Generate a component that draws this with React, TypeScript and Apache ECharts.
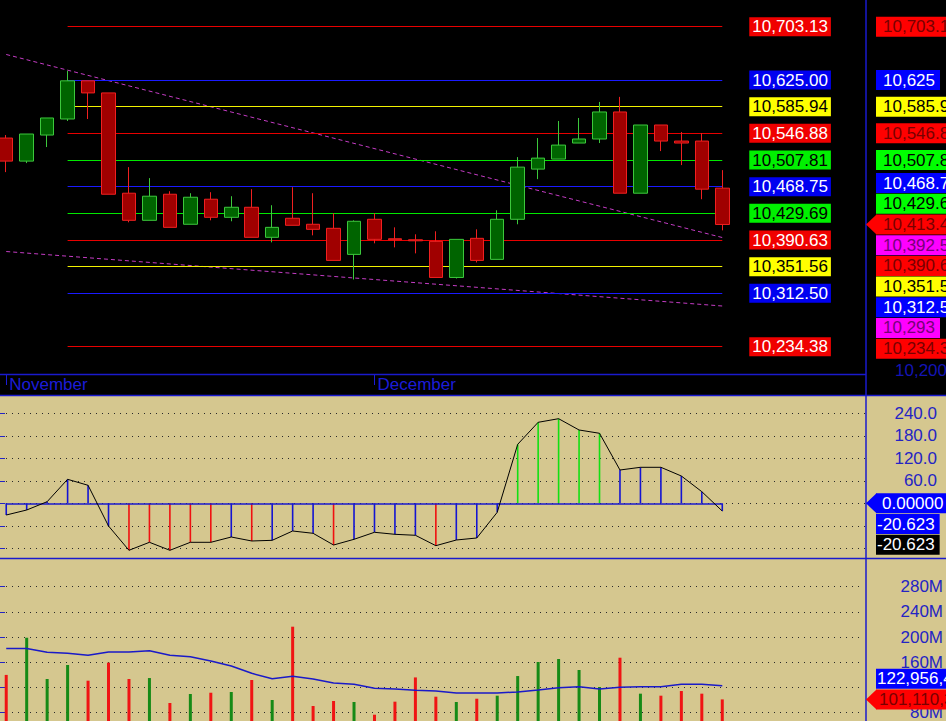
import { useEffect, useRef } from 'react';
import * as echarts from 'echarts';

// ---------- data ----------
const dates = [
  'Nov 06', 'Nov 07', 'Nov 08', 'Nov 09', 'Nov 10', 'Nov 13', 'Nov 14', 'Nov 15', 'Nov 16',
  'Nov 17', 'Nov 20', 'Nov 21', 'Nov 22', 'Nov 24', 'Nov 27', 'Nov 28', 'Nov 29', 'Nov 30',
  'Dec 01', 'Dec 04', 'Dec 05', 'Dec 06', 'Dec 07', 'Dec 08', 'Dec 11', 'Dec 12', 'Dec 13',
  'Dec 14', 'Dec 15', 'Dec 18', 'Dec 19', 'Dec 20', 'Dec 21', 'Dec 22', 'Dec 26', 'Dec 27',
];
const monthNames: Record<string, string> = { Nov: 'November', Dec: 'December' };

const candleOpen = [
  10540.0, 10506.2, 10544.4, 10567.9, 10623.8, 10606.1, 10459.2, 10419.5, 10457.7,
  10413.7, 10450.4, 10423.9, 10438.6, 10394.6, 10422.5, 10413.7, 10407.8, 10369.6,
  10421.0, 10392.5, 10391.0, 10388.7, 10335.8, 10393.1, 10362.3, 10421.0, 10494.5,
  10509.2, 10532.7, 10538.6, 10578.2, 10459.2, 10559.1, 10535.6, 10535.6, 10466.6,
];
const candleClose = [
  10506.2, 10545.9, 10569.4, 10623.8, 10606.1, 10457.7, 10419.5, 10454.8, 10409.2,
  10453.3, 10423.9, 10438.6, 10394.6, 10409.2, 10412.2, 10406.3, 10360.8, 10418.1,
  10391.6, 10391.0, 10389.5, 10335.8, 10391.6, 10360.8, 10421.0, 10497.4, 10510.6,
  10529.7, 10538.6, 10578.2, 10459.2, 10559.1, 10535.6, 10532.7, 10465.1, 10413.4,
];
const candleLow = [
  10490.1, 10503.3, 10526.8, 10565.0, 10567.9, 10457.7, 10416.6, 10419.5, 10409.2,
  10413.7, 10419.5, 10418.1, 10394.6, 10387.2, 10412.2, 10397.5, 10360.8, 10332.8,
  10385.8, 10379.9, 10371.1, 10335.8, 10334.3, 10357.8, 10362.3, 10413.7, 10479.8,
  10509.2, 10532.7, 10532.7, 10459.2, 10459.2, 10520.9, 10500.4, 10450.4, 10404.8,
];
const candleHigh = [
  10544.4, 10545.9, 10569.4, 10638.5, 10623.8, 10606.1, 10497.4, 10481.3, 10462.1,
  10459.2, 10460.7, 10454.8, 10465.1, 10441.6, 10468.0, 10459.2, 10429.8, 10419.5,
  10429.8, 10409.2, 10399.0, 10403.4, 10391.6, 10406.3, 10434.2, 10512.1, 10540.0,
  10565.0, 10569.4, 10592.9, 10600.3, 10559.1, 10559.1, 10548.8, 10547.4, 10493.0,
];

// oscillator (line + stems)
const oscValues = [
  -31.2, -17.9, 4.3, 64, 48, -60.5, -125.3, -104, -125.3, -104, -104, -89.9,
  -100.5, -98.7, -73.9, -80, -111.2, -96, -77.3, -82.7, -85.3, -113, -97.9, -92.5,
  -24, 157.3, 216, 225.6, 195.5, 186.7, 88.8, 96, 96, 72.8, 31, -20.623,
];
const oscKinds = [
  'b', 'b', 'b', 'b', 'b', 'b', 'r', 'r', 'r', 'r', 'r', 'b',
  'r', 'b', 'b', 'b', 'r', 'b', 'b', 'b', 'b', 'r', 'b', 'b',
  'b', 'g', 'g', 'g', 'g', 'g', 'b', 'b', 'b', 'b', 'b', 'b',
];

// volume, in millions
const volumeM = [
  140, 199, 133.5, 155.7, 130.8, 159.4, 133.5, 135, 95.4, 109.7, 111.7, 112.9,
  131.9, 100.2, 216.5, 90.6, 98.6, 97, 76.8, 97.5, 136, 105.4, 97, 102.2,
  107, 138.2, 160.5, 165.2, 147.8, 120.8, 167.3, 110.2, 107, 114.4, 110.2, 101.1,
];
const volumeAvgM = [
  182, 182, 175.9, 174.3, 171.1, 176.3, 176.3, 178.4, 171.1, 168.9, 162, 154.1,
  142.5, 134, 137.8, 133.5, 127.1, 125, 118.7, 117.6, 115.5, 114.4, 111.3, 111.3,
  111.3, 112.9, 116, 119.7, 121.3, 117.6, 120.3, 121.3, 121.3, 125, 125, 122.96,
];

// dotted trend lines (value at first and last candle)
const trendIndex = [0, 35];
const trendUpper = [10662.4, 10394.3];
const trendLower = [10373.8, 10294.0];

// horizontal price levels
const levelValues = [
  10703.13, 10625.0, 10585.94, 10546.88, 10507.81, 10468.75, 10429.69, 10390.63, 10351.56, 10312.5, 10234.38,
];
const levelKinds = ['r', 'b', 'y', 'r', 'g', 'b', 'g', 'r', 'y', 'b', 'r'];
const levelStartIndex = 3;

// right-hand price tags
const priceTagValues = [
  10703.13, 10625, 10585.94, 10546.88, 10507.81, 10468.75, 10429.69, 10413.41, 10392.52, 10390.63, 10351.56, 10312.5, 10293, 10234.38,
];
const priceTagTexts = [
  '10,703.13', '10,625', '10,585.94', '10,546.88', '10,507.81', '10,468.75', '10,429.69',
  '10,413.41', '10,392.52', '10,390.63', '10,351.56', '10,312.50', '10,293', '10,234.38',
];
const priceTagKinds = ['r', 'b', 'y', 'r', 'g', 'b', 'g', 'r', 'm', 'r', 'y', 'b', 'm', 'r'];
const priceTagAnchor = 7;
const priceAxisTickValue = 10200;
const priceAxisTickText = '10,200';

const oscTagValues = [0, -20.623, -20.623];
const oscTagTexts = ['0.00000', '-20.623', '-20.623'];
const oscTagKinds = ['B', 'B', 'K'];
const oscTagAnchor = 0;

const volTagValues = [122.956, 101.11];
const volTagTexts = ['122,956,480', '101,110,300'];
const volTagKinds = ['B', 'R'];
const volTagAnchor = 1;

// ---------- styles / layout ----------
const FONT = '"Liberation Sans", Arial, sans-serif';
const TAN = '#D5C78F';
const FRAME = '#1A1ACD';
const AXIS_TEXT = '#2424C4';

const LEVEL_LINE: Record<string, string> = { r: '#E80000', b: '#1A1AFF', y: '#F2F200', g: '#00E800' };
const LEVEL_BG: Record<string, string> = { r: '#F00000', b: '#0000F0', y: '#FFFF00', g: '#00F000' };
const LEVEL_FG: Record<string, string> = { r: '#FFFFFF', b: '#FFFFFF', y: '#000000', g: '#000000' };

const TAG_BG: Record<string, string> = {
  r: '#FF0000', b: '#0000FF', y: '#FFFF00', g: '#00FF00', m: '#FF00FF',
  B: '#0000FF', K: '#000000', R: '#FF0000',
};
const TAG_FG: Record<string, string> = {
  r: '#780000', b: '#FFFFFF', y: '#000000', g: '#000000', m: '#780078',
  B: '#FFFFFF', K: '#FFFFFF', R: '#780000',
};
const STEM: Record<string, string> = { b: '#1414D2', r: '#F01010', g: '#12E012' };

// the chart canvas is 10px wider on the left and taller than the visible page
const OX = 10;
const CW = 956;
const CH = 740;
const DATA_LEFT = OX - 4;
const DATA_WIDTH = 736.5;
const AXIS_X = OX + 866;
const TAG_H = 20.7;

export default function App() {
  const ref = useRef<HTMLDivElement>(null);

  useEffect(() => {
    document.body.style.margin = '0';
    document.body.style.background = '#000';
    const chart = echarts.init(ref.current!, null, { renderer: 'svg' });

    const isMonthStart = (i: number) => i === 0 || dates[i].slice(0, 3) !== dates[i - 1].slice(0, 3);
    const candleData = dates.map((_, i) => [candleOpen[i], candleClose[i], candleLow[i], candleHigh[i]]);
    const isUp = (i: number) => candleClose[i] >= candleOpen[i];

    const levelLines = levelValues.map((v, i) => [
      {
        coord: [levelStartIndex, v],
        lineStyle: { color: LEVEL_LINE[levelKinds[i]], width: 1, type: 'solid' },
        label: {
          show: true,
          position: 'end',
          distance: 27,
          formatter: v.toLocaleString('en-US', { minimumFractionDigits: 2, maximumFractionDigits: 2 }),
          backgroundColor: LEVEL_BG[levelKinds[i]],
          color: LEVEL_FG[levelKinds[i]],
          padding: [1, 3, 1, 3],
          fontSize: 17,
          lineHeight: 17,
          fontFamily: FONT,
        },
      },
      { coord: [dates.length - 1, v] },
    ]);

    const dotted = { color: '#2a2a2a', width: 1, type: [1, 5] as any };

    const frame: any[] = [
      { type: 'rect', id: 'tan', z: -10, silent: true, shape: { x: 0, y: 396, width: CW, height: CH - 396 }, style: { fill: TAN } },
      { type: 'line', id: 'sep1', z: 20, silent: true, shape: { x1: 0, y1: 395.5, x2: CW, y2: 395.5 }, style: { stroke: FRAME, lineWidth: 1.5 } },
      { type: 'line', id: 'sep2', z: 20, silent: true, shape: { x1: 0, y1: 558.5, x2: CW, y2: 558.5 }, style: { stroke: FRAME, lineWidth: 1.5 } },
      { type: 'line', id: 'vaxis', z: 20, silent: true, shape: { x1: AXIS_X, y1: 0, x2: AXIS_X, y2: CH }, style: { stroke: FRAME, lineWidth: 1.5 } },
      { type: 'line', id: 'hbase', z: 20, silent: true, shape: { x1: 0, y1: 374.5, x2: AXIS_X, y2: 374.5 }, style: { stroke: FRAME, lineWidth: 1.5 } },
    ];

    const option: any = {
      animation: false,
      backgroundColor: '#000000',
      textStyle: { fontFamily: FONT },
      grid: [
        { left: DATA_LEFT, top: 0, width: DATA_WIDTH, height: 374 },
        { left: DATA_LEFT, top: 390.8, width: DATA_WIDTH, height: 180 },
        { left: OX, top: 390.8, width: 866, height: 180 },
        { left: DATA_LEFT, top: 561.5, width: DATA_WIDTH, height: 176.4 },
        { left: OX, top: 561.5, width: 866, height: 176.4 },
      ],
      xAxis: [
        {
          type: 'category', gridIndex: 0, data: dates, boundaryGap: true,
          axisLine: { show: false },
          axisTick: { show: true, alignWithLabel: true, interval: (i: number) => isMonthStart(i), length: 11, lineStyle: { color: '#1C1CD8', width: 1 } },
          axisLabel: {
            show: true, interval: (i: number) => isMonthStart(i),
            formatter: (v: string) => monthNames[v.slice(0, 3)] || v,
            align: 'left', color: '#1C1CD8', fontSize: 17, fontFamily: FONT, margin: 2, padding: [0, 0, 0, 3],
          },
          splitLine: { show: false },
        },
        { type: 'category', gridIndex: 1, data: dates, show: false },
        { type: 'value', gridIndex: 2, min: 0, max: 1, show: false },
        { type: 'category', gridIndex: 3, data: dates, show: false },
        { type: 'value', gridIndex: 4, min: 0, max: 1, show: false },
      ],
      yAxis: [
        { type: 'value', gridIndex: 0, min: 10194.4, max: 10742.2, show: false, splitLine: { show: false } },
        { type: 'value', gridIndex: 1, min: -180, max: 300, show: false, splitLine: { show: false } },
        {
          type: 'value', gridIndex: 2, min: -180, max: 300, interval: 60, position: 'right',
          axisLine: { show: false },
          axisTick: { show: true, length: 5, lineStyle: { color: AXIS_TEXT } },
          axisLabel: {
            formatter: (v: number) => (v > 0 ? v.toFixed(1) : ''), align: 'right', margin: 71,
            color: AXIS_TEXT, fontSize: 17, fontFamily: FONT, showMinLabel: false, showMaxLabel: false,
          },
          splitLine: { show: true, showMinLine: false, showMaxLine: false, lineStyle: dotted },
        },
        { type: 'value', gridIndex: 3, min: 40, max: 320, show: false, splitLine: { show: false } },
        {
          type: 'value', gridIndex: 4, min: 40, max: 320, interval: 40, position: 'right',
          axisLine: { show: false },
          axisTick: { show: true, length: 5, lineStyle: { color: AXIS_TEXT } },
          axisLabel: {
            formatter: (v: number) => (v === 120 ? '' : `${v}M`), align: 'right', margin: 79,
            color: AXIS_TEXT, fontSize: 17, fontFamily: FONT, showMinLabel: false, showMaxLabel: false,
          },
          splitLine: { show: true, showMinLine: false, showMaxLine: false, lineStyle: dotted },
        },
      ],
      series: [
        {
          type: 'line', name: 'trendUpper', xAxisIndex: 0, yAxisIndex: 0, z: 3,
          data: trendIndex.map((x, i) => [x, trendUpper[i]]),
          symbol: 'none', silent: true,
          lineStyle: { color: '#C43CC4', width: 1, type: [4, 3] },
          markLine: {
            silent: true, symbol: ['none', 'none'], z: 4,
            lineStyle: { type: 'solid', width: 1 },
            data: levelLines,
          },
        },
        {
          type: 'line', name: 'trendLower', xAxisIndex: 0, yAxisIndex: 0, z: 3,
          data: trendIndex.map((x, i) => [x, trendLower[i]]),
          symbol: 'none', silent: true,
          lineStyle: { color: '#C43CC4', width: 1, type: [4, 3] },
        },
        {
          type: 'candlestick', name: 'price', xAxisIndex: 0, yAxisIndex: 0, z: 10,
          data: candleData, barWidth: 14,
          itemStyle: {
            color: '#006400', color0: '#A00000',
            borderColor: '#3CC83C', borderColor0: '#F02020', borderWidth: 1,
          },
        },
        {
          type: 'bar', name: 'oscStems', xAxisIndex: 1, yAxisIndex: 1, barWidth: 1.6, z: 3,
          data: oscValues.map((v, i) => ({ value: v, itemStyle: { color: STEM[oscKinds[i]] } })),
        },
        {
          type: 'line', name: 'osc', xAxisIndex: 1, yAxisIndex: 1, z: 5,
          data: oscValues, symbol: 'none',
          lineStyle: { color: '#000000', width: 1 },
          markLine: {
            silent: true, symbol: ['none', 'none'], label: { show: false },
            lineStyle: { color: FRAME, width: 1.5, type: 'solid' },
            data: [[{ coord: [0, 0] }, { coord: [dates.length - 1, 0] }]],
          },
        },
        {
          type: 'bar', name: 'volume', xAxisIndex: 3, yAxisIndex: 3, barWidth: 3, z: 3,
          data: volumeM.map((v, i) => ({ value: v, itemStyle: { color: isUp(i) ? '#168A16' : '#F01414' } })),
        },
        {
          type: 'line', name: 'volumeAvg', xAxisIndex: 3, yAxisIndex: 3, z: 5,
          data: volumeAvgM, symbol: 'none',
          lineStyle: { color: '#1A1AC8', width: 1.5 },
        },
      ],
      graphic: { elements: frame },
    };

    chart.setOption(option);

    // ---------- right-hand value tags ----------
    const tagEls: any[] = [];
    const buildTags = (
      prefix: string, values: number[], texts: string[], kinds: string[],
      anchor: number, yAxisIndex: number, padLeft: number[],
    ) => {
      const ys = values.map((v) => chart.convertToPixel({ yAxisIndex }, v) as number);
      const out = ys.slice();
      for (let i = anchor - 1; i >= 0; i--) out[i] = Math.min(ys[i], out[i + 1] - TAG_H);
      for (let i = anchor + 1; i < ys.length; i++) out[i] = Math.max(ys[i], out[i - 1] + TAG_H);
      out.forEach((y, i) => {
        const bg = TAG_BG[kinds[i]];
        if (i === anchor) {
          tagEls.push({
            type: 'polygon', id: `${prefix}-arrow`, z: 30, silent: true,
            shape: { points: [[AXIS_X, y], [AXIS_X + 10.5, y - 10], [AXIS_X + 10.5, y + 10]] },
            style: { fill: bg },
          });
        }
        tagEls.push({
          type: 'text', id: `${prefix}-${i}`, z: 31, silent: true,
          style: {
            text: texts[i], x: AXIS_X + 10, y, align: 'left', verticalAlign: 'middle',
            fill: TAG_FG[kinds[i]], backgroundColor: bg,
            padding: [1, 5, 1, padLeft[i]], fontSize: 17, lineHeight: 18, fontFamily: FONT,
          },
        });
      });
    };

    buildTags('p', priceTagValues, priceTagTexts, priceTagKinds, priceTagAnchor, 0, priceTagValues.map(() => 7));
    buildTags('o', oscTagValues, oscTagTexts, oscTagKinds, oscTagAnchor, 1, [6, 1, 1]);
    buildTags('v', volTagValues, volTagTexts, volTagKinds, volTagAnchor, 3, [1, 3]);

    const tickY = chart.convertToPixel({ yAxisIndex: 0 }, priceAxisTickValue) as number;
    tagEls.push({
      type: 'text', id: 'p-axis', z: 31, silent: true,
      style: {
        text: priceAxisTickText, x: AXIS_X + 29, y: tickY, align: 'left', verticalAlign: 'middle',
        fill: '#1414B4', fontSize: 17, fontFamily: FONT,
      },
    });

    chart.setOption({ graphic: { elements: [...frame, ...tagEls] } });

    return () => chart.dispose();
  }, []);

  return (
    <div style={{ position: 'relative', width: 946, height: 721, overflow: 'hidden' }}>
      <div ref={ref} style={{ position: 'absolute', left: -OX, top: 0, width: CW, height: CH }} />
    </div>
  );
}
